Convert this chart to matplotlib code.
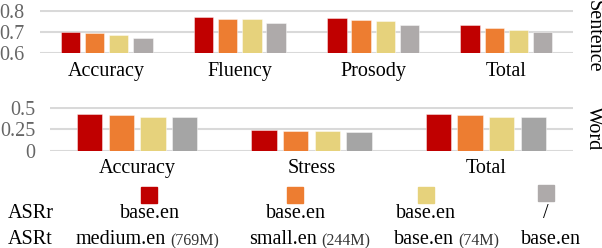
import matplotlib
matplotlib.use("Agg")
import matplotlib.pyplot as plt
from matplotlib.patches import Rectangle
import numpy as np

plt.rcParams['font.family'] = ['Liberation Serif', 'DejaVu Serif']

# ---- data ----
sent_cats = ["Accuracy", "Fluency", "Prosody", "Total"]
sent_ticks = [0.6, 0.7, 0.8]
sent_tick_labels = ["0.6", "0.7", "0.8"]
sent_medium = [0.703, 0.772, 0.766, 0.733]
sent_small = [0.694, 0.763, 0.757, 0.719]
sent_base = [0.685, 0.762, 0.754, 0.711]
sent_noref = [0.671, 0.745, 0.735, 0.700]

word_cats = ["Accuracy", "Stress", "Total"]
word_ticks = [0.0, 0.25, 0.5]
word_tick_labels = ["0", "0.25", "0.5"]
word_medium = [0.431, 0.242, 0.431]
word_small = [0.419, 0.230, 0.420]
word_base = [0.392, 0.235, 0.400]
word_noref = [0.392, 0.215, 0.400]

asrr_labels = ["base.en", "base.en", "base.en", "/"]
asrt_main = ["medium.en", "small.en", "base.en", "base.en"]
asrt_size = ["(769M)", "(244M)", "(74M)", ""]

colors = ["#C00000", "#ED7D31", "#E6D27C", "#AEAAAA"]
word_colors = ["#C00000", "#ED7D31", "#E6D27C", "#A5A5A5"]

W, H = 602, 248
fig = plt.figure(figsize=(W / 100, H / 100), dpi=100)

def px_axes(left, right, top, bottom):
    return fig.add_axes([left / W, 1 - bottom / H, (right - left) / W, (bottom - top) / H])

FS = 14.5
offsets = [-0.272, -0.091, 0.091, 0.272]
bw = 0.145

def panel(ax, cats, series, cols, ylim, ticks, tlabels, ypad):
    x = np.arange(len(cats))
    for s, c, o in zip(series, cols, offsets):
        ax.bar(x + o, np.array(s) - ylim[0], bw, bottom=ylim[0], color=c,
               edgecolor=(1, 1, 1, 0.5), linewidth=0.6, zorder=3)
    ax.set_xlim(-0.5, len(cats) - 0.5)
    ax.set_ylim(*ylim)
    ax.set_yticks(ticks)
    ax.set_yticklabels(tlabels, fontsize=FS, color="#666666")
    ax.set_xticks(x)
    ax.set_xticklabels(cats, fontsize=FS, color="black")
    ax.tick_params(axis='y', length=0, pad=ypad)
    ax.tick_params(axis='x', length=0, pad=6)
    ax.yaxis.grid(True, color="#D9D9D9", linewidth=1.5, zorder=0)
    ax.set_axisbelow(True)
    for sp in ax.spines.values():
        sp.set_visible(False)

ax1 = px_axes(40, 573, 10, 53.3)
panel(ax1, sent_cats, [sent_medium, sent_small, sent_base, sent_noref], colors,
      (0.6, 0.8), sent_ticks, sent_tick_labels, 11.5)
ax1.set_ylim(0.6, 0.805)

ax2 = px_axes(50, 573, 107.3, 150.7)
panel(ax2, word_cats, [word_medium, word_small, word_base, word_noref], word_colors,
      (0.0, 0.5), word_ticks, word_tick_labels, 10.5)
ax2.set_ylim(0, 0.51)

fig.text(593 / W, 1 - 36 / H, "Sentence", rotation=-90, ha="center", va="center", fontsize=FS)
fig.text(593 / W, 1 - 128 / H, "Word", rotation=-90, ha="center", va="center", fontsize=FS)

# ---- legend table ----
leg = fig.add_axes([0, 0, 1, 1])
leg.set_xlim(0, W)
leg.set_ylim(H, 0)
leg.axis("off")
col_x = [149, 295, 426, 546]
sq_y = [187, 187, 187, 185]
for cx, sy, c in zip(col_x, sq_y, colors):
    leg.add_patch(Rectangle((cx - 8, sy), 16, 16, color=c))
leg.text(8, 214, "ASRr", fontsize=FS, ha="left", va="center")
leg.text(8, 240, "ASRt", fontsize=FS, ha="left", va="center")
asrr_x = [150, 296, 426, 546]
for cx, t in zip(asrr_x, asrr_labels):
    leg.text(cx, 214, t, fontsize=FS, ha="center", va="center")
split_x = [166, 317, 454, 581]
for sx, m, s in zip(split_x, asrt_main, asrt_size):
    leg.text(sx, 240, m, fontsize=FS, ha="right", va="center")
    if s:
        leg.text(sx + 4, 241, s, fontsize=11.5, ha="left", va="center", color="#333333")

fig.savefig("out.png", dpi=100)
